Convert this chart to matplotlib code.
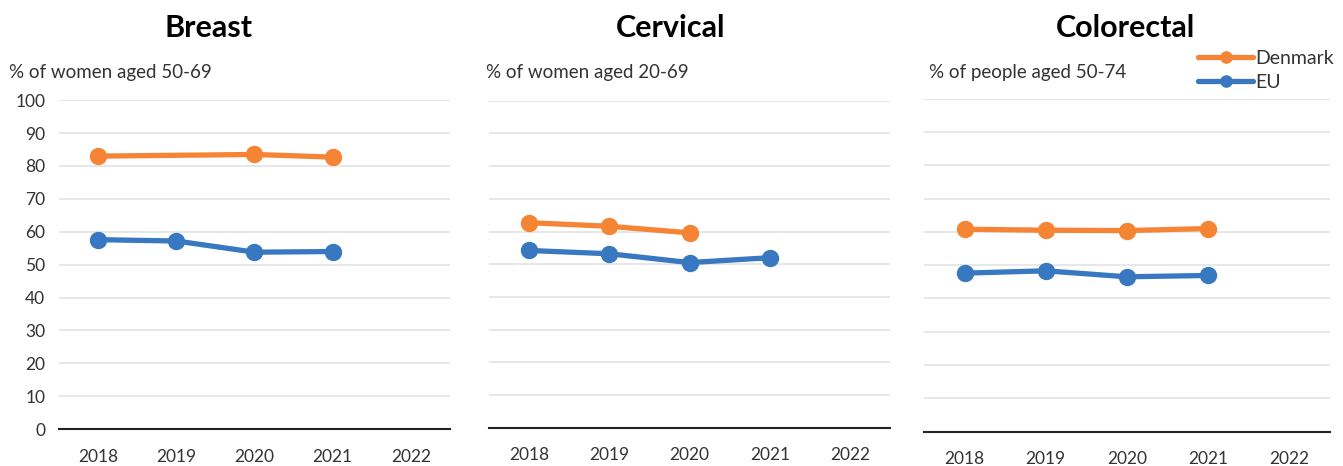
import numpy as np
import matplotlib.pyplot as plt

years = ["2018", "2019", "2020", "2021", "2022"]
titles = ["Breast", "Cervical", "Colorectal"]
subtitles = ["% of women aged 50-69", "% of women aged 20-69", "% of people aged 50-74"]

nan = np.nan
denmark = [
    [83.0, nan, 83.5, 82.7, nan],
    [62.7, 61.6, 59.6, nan, nan],
    [60.8, 60.5, 60.4, 61.0, nan],
]
eu = [
    [57.6, 57.2, 53.8, 54.0, nan],
    [54.2, 53.2, 50.5, 52.0, nan],
    [47.6, 48.3, 46.5, 46.9, nan],
]

orange = "#F58534"
blue = "#3878C0"
plt.rcParams['font.family'] = ['Lato', 'DejaVu Sans']

fig = plt.figure(figsize=(13.43, 4.66), dpi=100)
boxes = [(0.044, 0.079, 0.291, 0.706), (0.364, 0.082, 0.299, 0.702), (0.688, 0.074, 0.302, 0.714)]
sub_x = [0.007, 0.362, 0.692]
title_x = [0.155, 0.499, 0.838]

x = np.arange(len(years))
for i in range(3):
    ax = fig.add_axes(boxes[i])
    for vals, col, lab in [(denmark[i], orange, "Denmark"), (eu[i], blue, "EU")]:
        v = np.array(vals)
        m = ~np.isnan(v)
        ax.plot(x[m], v[m], color=col, lw=3.8, marker="o", ms=11.5, label=lab,
                solid_capstyle="round")
    ax.set_xlim(-0.5, 4.5)
    ax.set_ylim(0, 100)
    ax.set_yticks(range(0, 101, 10))
    ax.set_xticks(x)
    ax.set_xticklabels(years)
    ax.grid(axis="y", color="#e3e3e3", lw=1.2)
    ax.set_axisbelow(True)
    for s in ["top", "right", "left"]:
        ax.spines[s].set_visible(False)
    ax.spines["bottom"].set_color("#222222")
    ax.spines["bottom"].set_linewidth(1.5)
    ax.tick_params(axis="both", length=0, labelsize=12.5, colors="#333333", pad=10)
    ax.tick_params(axis="x", pad=14)
    if i > 0:
        ax.set_yticklabels([])
    fig.text(title_x[i], 0.94, titles[i], fontsize=22,
             fontweight="bold", ha="center", va="center")
    fig.text(sub_x[i], 0.845, subtitles[i], fontsize=13.5, color="#333333", va="center")
    if i == 2:
        ax.legend(loc="upper right", bbox_to_anchor=(0.993, 0.893), bbox_transform=fig.transFigure,
                  frameon=False, fontsize=14, handlelength=2.8, handletextpad=0.1,
                  labelspacing=0.35, borderpad=0, borderaxespad=0, markerscale=0.7,
                  labelcolor="#333333")

fig.savefig("out.png", dpi=100)
